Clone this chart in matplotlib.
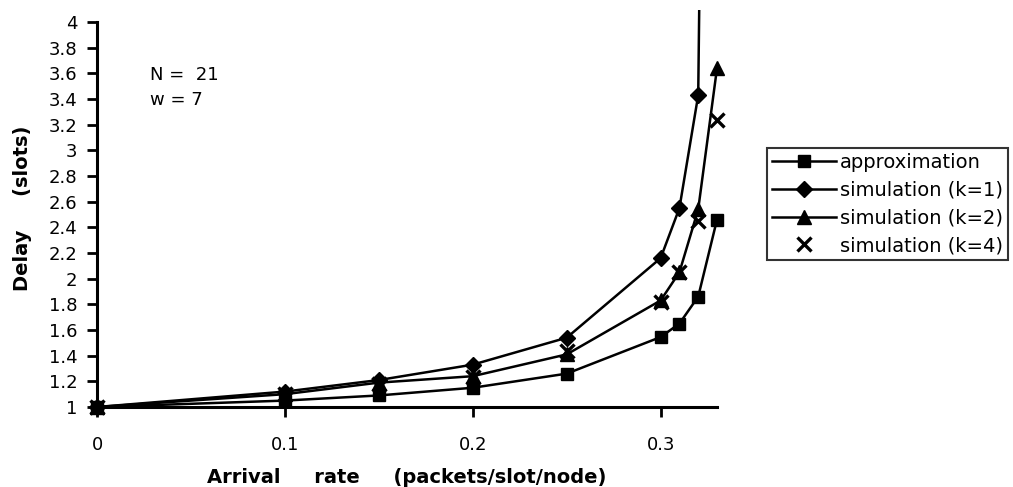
import matplotlib
matplotlib.use("Agg")
import matplotlib.pyplot as plt
from matplotlib.lines import Line2D

plt.rcParams['font.family'] = ['DejaVu Sans']

# Data
x_rate = [0, 0.1, 0.15, 0.2, 0.25, 0.3, 0.31, 0.32, 0.33]
approximation = [1.0, 1.05, 1.09, 1.15, 1.26, 1.545, 1.65, 1.86, 2.46]
sim_k1 = [1.0, 1.12, 1.21, 1.33, 1.54, 2.16, 2.55, 3.43, 16.0]
sim_k2 = [1.0, 1.10, 1.19, 1.24, 1.41, 1.83, 2.05, 2.54, 3.64]
sim_k4 = [1.0, 1.10, 1.18, 1.23, 1.44, 1.82, 2.05, 2.45, 3.24]

labels = ["approximation", "simulation (k=1)", "simulation (k=2)", "simulation (k=4)"]
yticks = [1, 1.2, 1.4, 1.6, 1.8, 2, 2.2, 2.4, 2.6, 2.8, 3, 3.2, 3.4, 3.6, 3.8, 4]
ytick_labels = ["1", "1.2", "1.4", "1.6", "1.8", "2", "2.2", "2.4", "2.6", "2.8", "3",
                "3.2", "3.4", "3.6", "3.8", "4"]
xticks = [0, 0.1, 0.2, 0.3]
xtick_labels = ["0", "0.1", "0.2", "0.3"]

fig = plt.figure(figsize=(10.13, 4.87), dpi=100)
ax = fig.add_axes([97/1013, 1 - 407/487, (717-97)/1013, (407-10)/487])

lw = 1.8
ytop = 1 + (407-10)/(385/3)
styles = [dict(marker='s', ms=8.5), dict(marker='D', ms=8.5), dict(marker='^', ms=10)]

# approximation and k=2 : line + markers
ax.plot(x_rate, approximation, color='black', lw=lw, clip_on=False, zorder=3, **styles[0])
ax.plot(x_rate, sim_k2, color='black', lw=lw, clip_on=False, zorder=3, **styles[2])
# k=1 : line clipped at the top, markers only where visible
ax.plot(x_rate, sim_k1, color='black', lw=lw, clip_on=True, zorder=3)
vis = [i for i, v in enumerate(sim_k1) if v <= 4]
ax.plot([x_rate[i] for i in vis], [sim_k1[i] for i in vis], color='black', lw=0,
        clip_on=False, zorder=3, **styles[1])
# k=4 : markers only
ax.plot(x_rate, sim_k4, color='black', lw=0, marker='x', ms=9.5, mew=2.4, clip_on=False, zorder=4)

ax.set_xlim(0, 0.33)
ax.set_ylim(1, ytop)
ax.spines['left'].set_bounds(1, 4)
for s in ['top', 'right']:
    ax.spines[s].set_visible(False)
for s in ['left', 'bottom']:
    ax.spines[s].set_linewidth(2.2)

ax.set_yticks(yticks)
ax.set_yticklabels(ytick_labels, fontsize=13)
ax.set_xticks(xticks)
ax.set_xticklabels(xtick_labels, fontsize=13)
ax.tick_params(axis='y', direction='out', length=7, width=2, pad=7)
ax.tick_params(axis='x', direction='out', length=7, width=2, pad=14)

ax.set_xlabel("Arrival     rate     (packets/slot/node)", fontsize=14, fontweight='bold', labelpad=10)
ax.set_ylabel("Delay     (slots)", fontsize=14, fontweight='bold', labelpad=12)

fig.text(150/1013, 1 - 75/487, "N =  21", fontsize=13, va='center', ha='left')
fig.text(150/1013, 1 - 100/487, "w = 7", fontsize=13, va='center', ha='left')

handles = [
    Line2D([], [], color='black', lw=lw, **styles[0]),
    Line2D([], [], color='black', lw=lw, **styles[1]),
    Line2D([], [], color='black', lw=lw, **styles[2]),
    Line2D([], [], color='black', lw=0, marker='x', ms=9.5, mew=2.4),
]
leg = fig.legend(handles, labels, loc='upper left', bbox_to_anchor=(767/1013, 1 - 148/487),
                 fontsize=14, frameon=True, fancybox=False, edgecolor='black',
                 handlelength=3.3, handletextpad=0.2, labelspacing=0.45,
                 borderpad=0.25, borderaxespad=0)
leg.get_frame().set_linewidth(1.5)

fig.savefig("out.png", dpi=100)
